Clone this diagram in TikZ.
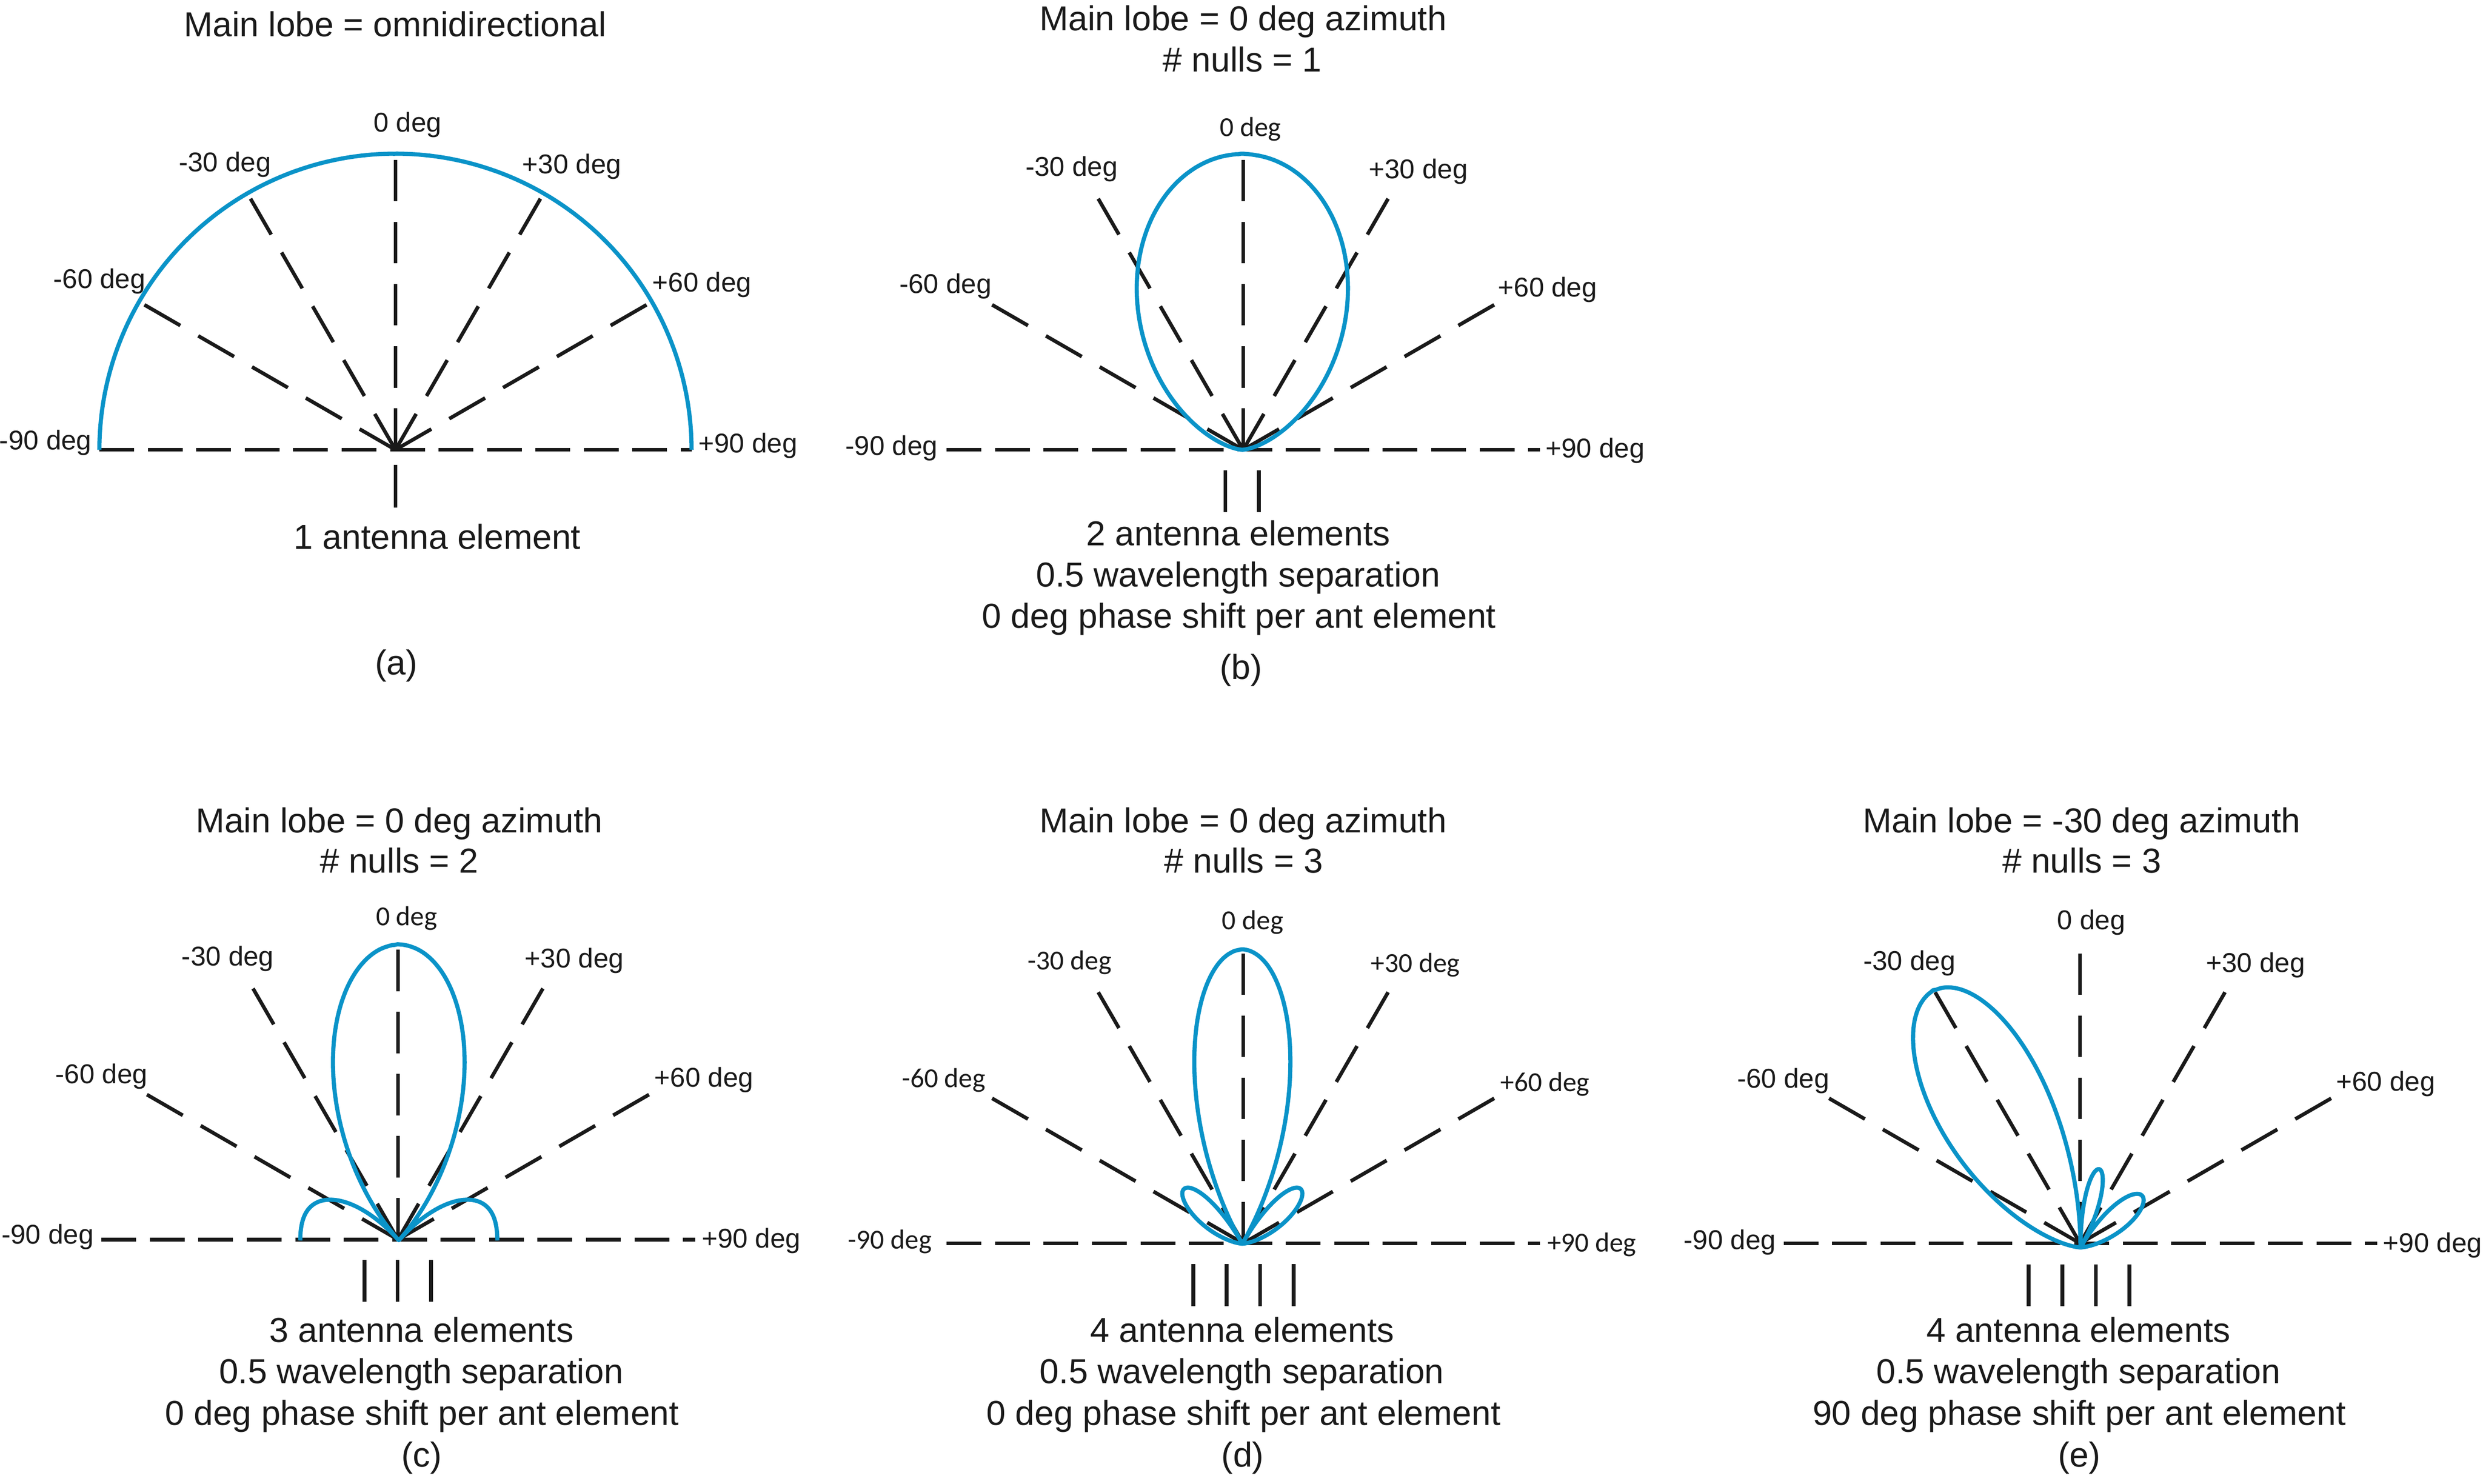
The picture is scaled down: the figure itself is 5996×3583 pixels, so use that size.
\documentclass[tikz,border=0pt]{standalone}
\usepackage{fontspec}
\setmainfont{Liberation Sans}
\newfontfamily\calfont{Carlito}
\definecolor{lobeblue}{HTML}{0A93C8}
\definecolor{inkblack}{HTML}{1A1A1A}
\tikzset{
  declare function={af(\q,\m)=abs(sin(\m*\q/2)/(\m*sin(\q/2)));},
  ray/.style={draw=inkblack,line width=2.2pt,dash pattern=on 25pt off 12.5pt},
  horiz/.style={draw=inkblack,line width=2.2pt,dash pattern=on 21pt off 8.25pt},
  elem/.style={draw=inkblack,line width=2.3pt},
  lobe/.style={draw=lobeblue,line width=2.5pt,line join=round},
  big/.style={inner sep=0pt,anchor=base,text=inkblack,yshift=-0.7pt,font=\fontsize{20.9}{25}\selectfont},
  small/.style={inner sep=0pt,anchor=base,text=inkblack,yshift=-0.4pt,font=\fontsize{16.4}{20}\selectfont},
  smallc/.style={inner sep=0pt,anchor=base,text=inkblack,yshift=-0.2pt,font=\calfont\fontsize{16.6}{20}\selectfont}
}
% name, x, y, left end, right end
\newcommand{\drawfan}[5]{%
  \coordinate (#1) at (#2,#3);
  \coordinate (#1L) at (#4,#3);
  \coordinate (#1R) at (#5,#3);
  \foreach \a in {-60,-30,0,30,60}{\draw[ray] (#1) ++({700*sin(\a)},{-700*cos(\a)}) -- (#1);}
  \draw[horiz] (#1L) -- (#1R);
}
% x, y, radius, elements, phase step
\newcommand{\drawlobe}[5]{%
  \draw[lobe,shift={(#1,#2)}] plot[domain=-90:90,samples=360]
    ({#3*af(180*sin(\x)+#5,#4)*sin(\x)},{-#3*af(180*sin(\x)+#5,#4)*cos(\x)});
}
\newcommand{\antenna}[3]{\draw[elem] (#1,#2) -- (#1,#3);}
\begin{document}
\begin{tikzpicture}[x=0.25pt,y=-0.25pt]
\path[use as bounding box,fill=white] (0,0) rectangle (5996,3583);

% ---------- (a)
\drawfan{pa}{955}{1086}{240}{1671}
\drawlobe{955}{1086}{715}{1}{0}
\antenna{955}{1122}{1225}
\node[big] (ta) at (954,85) {Main lobe = omnidirectional};
\node[small] (a0) at (984,317) {0 deg};
\node[small] (am30) at (543,413) {-30 deg};
\node[small] (ap30) at (1381,418) {+30 deg};
\node[small] (am60) at (240,695) {-60 deg};
\node[small] (ap60) at (1695,703) {+60 deg};
\node[small] (am90) at (110,1084) {-90 deg};
\node[small] (ap90) at (1806,1092) {+90 deg};
\node[big] (la) at (1056,1323) {1 antenna element};
\node[big] (ca) at (957,1626) {(a)};

% ---------- (b)
\drawfan{pb}{3002}{1086}{2286}{3719}
\drawlobe{3000}{1086}{714}{2}{0}
\antenna{2959}{1136}{1236}
\antenna{3040}{1136}{1236}
\node[big] (tb1) at (3002,71) {Main lobe = 0 deg azimuth};
\node[big] (tb2) at (3000,171) {\# nulls = 1};
\node[smallc] (b0) at (3020,328) {0 deg};
\node[small] (bm30) at (2588,423) {-30 deg};
\node[small] (bp30) at (3425,430) {+30 deg};
\node[small] (bm60) at (2283,707) {-60 deg};
\node[small] (bp60) at (3737,715) {+60 deg};
\node[small] (bm90) at (2153,1097) {-90 deg};
\node[small] (bp90) at (3852,1104) {+90 deg};
\node[big] (lb1) at (2990,1314) {2 antenna elements};
\node[big] (lb2) at (2990,1414) {0.5 wavelength separation};
\node[big] (lb3) at (2992,1513) {0 deg phase shift per ant element};
\node[big] (cb) at (2997,1637) {(b)};

% ---------- (c)
\drawfan{pc}{961}{2993}{245}{1679}
\drawlobe{963}{2995}{714}{3}{0}
\antenna{880}{3042}{3143}
\antenna{960}{3042}{3143}
\antenna{1041}{3042}{3143}
\node[big] (tc1) at (964,2008) {Main lobe = 0 deg azimuth};
\node[big] (tc2) at (964,2105) {\# nulls = 2};
\node[smallc] (c0) at (982,2234) {0 deg};
\node[small] (cm30) at (550,2330) {-30 deg};
\node[small] (cp30) at (1387,2335) {+30 deg};
\node[small] (cm60) at (245,2614) {-60 deg};
\node[small] (cp60) at (1700,2623) {+60 deg};
\node[small] (cm90) at (115,3002) {-90 deg};
\node[small] (cp90) at (1814,3011) {+90 deg};
\node[big] (lc1) at (1018,3238) {3 antenna elements};
\node[big] (lc2) at (1017,3338) {0.5 wavelength separation};
\node[big] (lc3) at (1019,3438) {0 deg phase shift per ant element};
\node[big] (cc) at (1018,3539) {(c)};

% ---------- (d)
\drawfan{pd}{3002}{3002}{2286}{3719}
\drawlobe{3000}{3003}{710}{4}{0}
\antenna{2882}{3052}{3154}
\antenna{2962}{3052}{3154}
\antenna{3043}{3052}{3154}
\antenna{3124}{3052}{3154}
\node[big] (td1) at (3002,2008) {Main lobe = 0 deg azimuth};
\node[big] (td2) at (3003,2105) {\# nulls = 3};
\node[smallc] (d0) at (3025,2244) {0 deg};
\node[smallc] (dm30) at (2583,2341) {-30 deg};
\node[smallc] (dp30) at (3418,2347) {+30 deg};
\node[smallc] (dm60) at (2279,2625) {-60 deg};
\node[smallc] (dp60) at (3731,2634) {+60 deg};
\node[smallc] (dm90) at (2149,3015) {-90 deg};
\node[smallc] (dp90) at (3844,3022) {+90 deg};
\node[big] (ld1) at (3000,3238) {4 antenna elements};
\node[big] (ld2) at (2999,3338) {0.5 wavelength separation};
\node[big] (ld3) at (3003,3438) {0 deg phase shift per ant element};
\node[big] (cd) at (3001,3539) {(d)};

% ---------- (e)
\drawfan{pe}{5023}{3002}{4307}{5741}
\drawlobe{5024}{3012}{714}{4}{90}
\antenna{4899}{3053}{3154}
\antenna{4980}{3053}{3154}
\antenna{5061}{3053}{3154}
\antenna{5142}{3053}{3154}
\node[big] (te1) at (5027,2008) {Main lobe = -30 deg azimuth};
\node[big] (te2) at (5027,2105) {\# nulls = 3};
\node[small] (e0) at (5050,2243) {0 deg};
\node[small] (em30) at (4611,2341) {-30 deg};
\node[small] (ep30) at (5447,2346) {+30 deg};
\node[small] (em60) at (4306,2625) {-60 deg};
\node[small] (ep60) at (5761,2632) {+60 deg};
\node[small] (em90) at (4177,3015) {-90 deg};
\node[small] (ep90) at (5874,3022) {+90 deg};
\node[big] (le1) at (5019,3238) {4 antenna elements};
\node[big] (le2) at (5019,3338) {0.5 wavelength separation};
\node[big] (le3) at (5021,3438) {90 deg phase shift per ant element};
\node[big] (ce) at (5021,3539) {(e)};
\end{tikzpicture}
\end{document}
